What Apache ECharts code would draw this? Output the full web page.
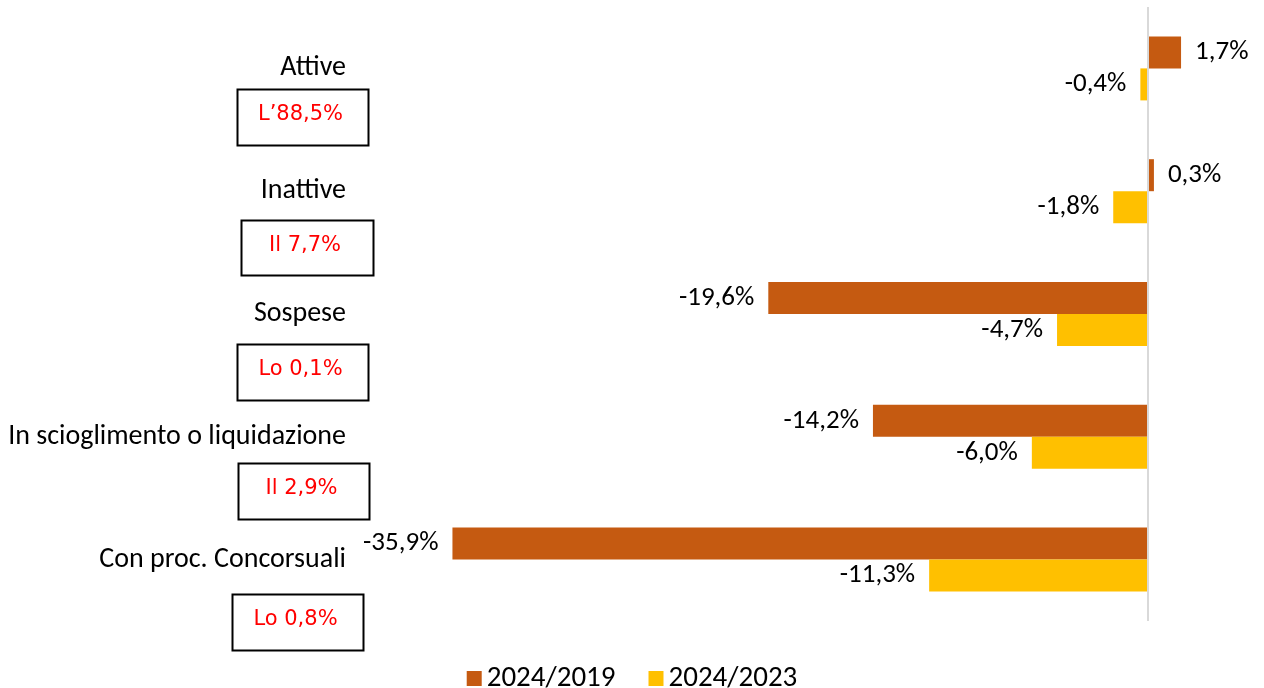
<!DOCTYPE html>
<html>
<head>
<meta charset="utf-8">
<title>Imprese per stato di attività</title>
<script src="https://cdn.jsdelivr.net/npm/echarts@6/dist/echarts.min.js"></script>
<style>
  html, body { margin: 0; padding: 0; background: #fff; }
  #chart { width: 1264px; height: 688px; }
</style>
</head>
<body>
<div id="chart"></div>
<script>
// dati
const categories = ['Attive', 'Inattive', 'Sospese', 'In scioglimento o liquidazione', 'Con proc. Concorsuali']
const var2019 = [1.7, 0.3, -19.6, -14.2, -35.9] // 2024/2019
const var2023 = [-0.4, -1.8, -4.7, -6.0, -11.3] // 2024/2023
const shares = ['L\u201988,5%', 'Il 7,7%', 'Lo 0,1%', 'Il 2,9%', 'Lo 0,8%']
const seriesNames = ['2024/2019', '2024/2023']

const font = 'Carlito, "Liberation Sans", Arial, sans-serif'
const boxFont = '"DejaVu Sans", Verdana, sans-serif'
const colors = ['#C55A11', '#FFC000']

// box con la quota, una per categoria [x, y, w, h]
const boxes = [
  [235, 87, 131, 56],
  [239, 218, 132, 55],
  [235, 342, 131, 56],
  [236, 461, 131, 56],
  [230, 592, 131, 56]
]

function fmt(v) {
  return v.toFixed(1).replace('.', ',') + '%'
}

function toItems(values) {
  return values.map(v => ({
    value: v,
    label: { position: v >= 0 ? 'right' : 'left' }
  }))
}

const chart = echarts.init(document.getElementById('chart'))

const graphic = []
boxes.forEach((b, i) => {
  graphic.push({
    type: 'rect',
    left: b[0],
    top: b[1],
    shape: { width: b[2], height: b[3] },
    style: { fill: 'none', stroke: '#000', lineWidth: 2 },
    silent: true
  })
  graphic.push({
    type: 'text',
    x: b[0] + b[2] / 2,
    y: b[1] + b[3] / 2,
    style: {
      text: shares[i],
      fill: '#FF0000',
      font: '21px ' + boxFont,
      align: 'center',
      verticalAlign: 'middle'
    },
    silent: true
  })
})

const valueLabel = {
  show: true,
  distance: 14,
  fontSize: 27,
  color: '#000',
  fontFamily: font,
  formatter: p => fmt(p.value)
}

chart.setOption({
  animation: false,
  textStyle: { fontFamily: font },
  grid: {
    left: 373,
    right: 19,
    top: 7,
    bottom: 67
  },
  legend: {
    top: 659,
    left: 'center',
    icon: 'rect',
    itemWidth: 15,
    itemHeight: 15,
    itemGap: 33,
    textStyle: { fontSize: 29, color: '#000', fontFamily: 'Carlito, sans-serif' },
    data: seriesNames
  },
  xAxis: {
    type: 'value',
    min: -40,
    max: 5,
    show: false
  },
  yAxis: {
    type: 'category',
    inverse: true,
    data: categories,
    axisLine: { show: false },
    axisTick: { show: false },
    axisLabel: {
      margin: 27,
      fontSize: 28,
      color: '#000',
      fontFamily: font
    }
  },
  series: [
    {
      name: seriesNames[0],
      type: 'bar',
      barWidth: 32,
      barGap: '0%',
      itemStyle: { color: colors[0] },
      label: valueLabel,
      data: toItems(var2019),
      markLine: {
        silent: true,
        symbol: 'none',
        label: { show: false },
        lineStyle: { color: '#D9D9D9', type: 'solid', width: 2 },
        data: [{ xAxis: 0 }]
      }
    },
    {
      name: seriesNames[1],
      type: 'bar',
      barWidth: 32,
      barGap: '0%',
      itemStyle: { color: colors[1] },
      label: valueLabel,
      data: toItems(var2023)
    }
  ],
  graphic: graphic
})
</script>
</body>
</html>
